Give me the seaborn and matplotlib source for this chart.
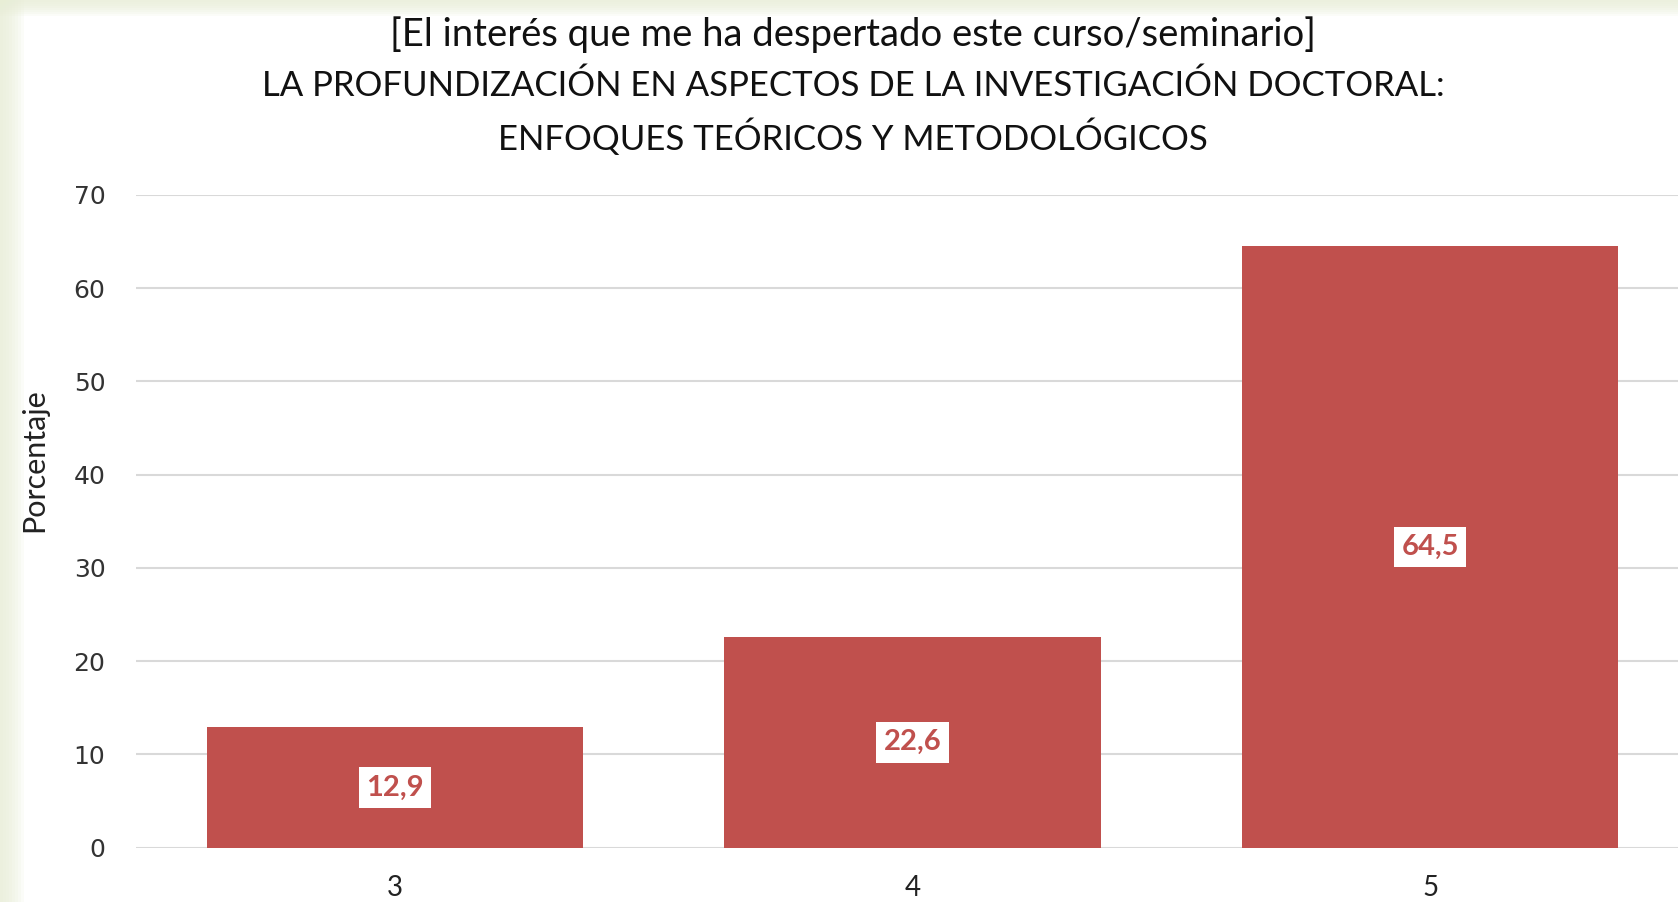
import matplotlib
matplotlib.use("Agg")
import matplotlib.pyplot as plt
from matplotlib.patches import Rectangle
import seaborn as sns
import pandas as pd

categories = ["3", "4", "5"]
values = [12.9, 22.6, 64.5]
value_labels = ["12,9", "22,6", "64,5"]
title_lines = [
    "[El interés que me ha despertado este curso/seminario]",
    "LA PROFUNDIZACIÓN EN ASPECTOS DE LA INVESTIGACIÓN DOCTORAL:",
    "ENFOQUES TEÓRICOS Y METODOLÓGICOS",
]
y_ticks = [0, 10, 20, 30, 40, 50, 60, 70]
y_label = "Porcentaje"

sns.set_theme(style="white")
plt.rcParams["font.family"] = ["Lato", "DejaVu Sans"]

W, H = 1678, 902
fig = plt.figure(figsize=(W / 100, H / 100), dpi=100)
fig.patch.set_facecolor("white")

# soft slide background tint at top and left edges
tint = "#e8eed6"
steps = 8
for k in range(steps):
    a = 0.16
    h = 16 * (k + 1) / steps
    fig.add_artist(Rectangle((0, 1 - h / H), 1, h / H, transform=fig.transFigure,
                             facecolor=tint, edgecolor="none", alpha=a, zorder=0))
    w = 24 * (k + 1) / steps
    fig.add_artist(Rectangle((0, 0), w / W, 1, transform=fig.transFigure,
                             facecolor=tint, edgecolor="none", alpha=a, zorder=0))

left, right = 136, 1689
top, bottom = 194.8, 847.6
ax = fig.add_axes([left / W, 1 - bottom / H, (right - left) / W, (bottom - top) / H])
ax.set_facecolor("none")

df = pd.DataFrame({"cat": categories, "val": values})
sns.barplot(data=df, x="cat", y="val", color="#C0504D", saturation=1,
            width=0.727, ax=ax, edgecolor="none", zorder=3)

ax.set_xlim(-0.5, 2.5)
ax.set_ylim(0, 70)
ax.set_yticks(y_ticks)
ax.grid(axis="y", color="#d9d9d9", linewidth=1.5, zorder=0)
ax.set_axisbelow(True)
for s in ax.spines.values():
    s.set_visible(False)

ax.tick_params(axis="y", length=0, pad=22, labelsize=18, labelcolor="#333333")
ax.tick_params(axis="x", length=0, pad=20, labelsize=20, labelcolor="#222222")
for lab in ax.get_yticklabels():
    lab.set_fontfamily("DejaVu Sans")

ax.set_xlabel("")
ax.set_ylabel(y_label, fontsize=22, color="#222222")
ax.yaxis.set_label_coords(48 / W, 1 - 460 / H, transform=fig.transFigure)

for i, (v, lab) in enumerate(zip(values, value_labels)):
    ax.text(i, v / 2, lab, ha="center", va="center", fontsize=21,
            fontweight="bold", color="#C0504D", zorder=5,
            bbox=dict(boxstyle="square,pad=0.25", facecolor="white", edgecolor="none"))

sizes = [27.5, 25, 25]
for txt, yc, fs in zip(title_lines, [35, 86, 137], sizes):
    fig.text(853 / W, 1 - yc / H, txt, ha="center", va="center",
             fontsize=fs, color="#111111")

fig.savefig("out.png", dpi=100)
